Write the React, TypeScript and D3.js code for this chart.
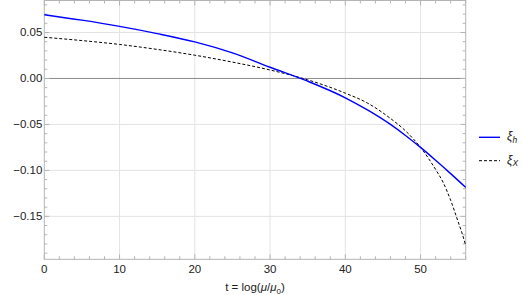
import React, { useEffect, useRef } from "react";
import * as d3 from "d3";

// values
const tXih = [0, 5, 10, 15, 20, 25, 30, 35, 40, 43, 46, 48, 50, 52, 54, 56];
const xiH = [0.0694, 0.0634, 0.0566, 0.0488, 0.0398, 0.0278, 0.0122, -0.003, -0.021, -0.0345, -0.05, -0.062, -0.075, -0.089, -0.1035, -0.1185];
const tXiX = [0, 5, 10, 15, 20, 25, 30, 35, 40, 43, 46, 48, 50, 52, 53, 54, 55, 55.5, 56];
const xiX = [0.0448, 0.0412, 0.037, 0.0316, 0.0253, 0.0178, 0.0092, -0.0015, -0.016, -0.027, -0.0435, -0.057, -0.075, -0.099, -0.113, -0.1325, -0.156, -0.168, -0.1815];
const xTicks = [0, 10, 20, 30, 40, 50];
const yTicks = [0.05, 0, -0.05, -0.1, -0.15];

const W = 523;
const H = 295;
const FONT = "'Liberation Sans', Arial, sans-serif";

export default function App() {
  const ref = useRef<SVGSVGElement>(null);

  useEffect(() => {
    const svg = d3.select(ref.current);
    svg.selectAll("*").remove();

    const x = d3.scaleLinear().domain([0, 56]).range([44.3, 465.7]);
    const y = d3.scaleLinear().domain([-0.1967, 0.0848]).range([259.3, 0.5]);
    const [x0, x1] = x.range();
    const [y0, y1] = y.range();

    // grid
    const grid = svg.append("g").attr("stroke", "#e3e3e3").attr("stroke-width", 1);
    grid.selectAll("line.v").data(xTicks.filter((d) => d > 0)).join("line")
      .attr("x1", (d) => x(d)).attr("x2", (d) => x(d)).attr("y1", y1).attr("y2", y0);
    grid.selectAll("line.h").data(yTicks.filter((d) => d !== 0)).join("line")
      .attr("x1", x0).attr("x2", x1).attr("y1", (d) => y(d)).attr("y2", (d) => y(d));

    // zero line
    svg.append("line").attr("x1", x0).attr("x2", x1).attr("y1", y(0)).attr("y2", y(0))
      .attr("stroke", "#8a8a8a").attr("stroke-width", 1);

    // frame
    svg.append("rect").attr("x", x0).attr("y", y1).attr("width", x1 - x0).attr("height", y0 - y1)
      .attr("fill", "none").attr("stroke", "#b4b4b4").attr("stroke-width", 1);

    // ticks on all four sides
    const xMinor = d3.range(0, 57, 2);
    const yMinor = d3.range(-19, 9).map((k) => k / 100);
    const tk = svg.append("g").attr("stroke", "#b4b4b4").attr("stroke-width", 1);
    const isMajX = (d: number) => d % 10 === 0;
    const isMajY = (d: number) => Math.abs(Math.round(d * 100)) % 5 === 0;
    tk.selectAll("line.b").data(xMinor).join("line")
      .attr("x1", (d) => x(d)).attr("x2", (d) => x(d))
      .attr("y1", y0).attr("y2", (d) => y0 - (isMajX(d) ? 5 : 3));
    tk.selectAll("line.t").data(xMinor).join("line")
      .attr("x1", (d) => x(d)).attr("x2", (d) => x(d))
      .attr("y1", y1).attr("y2", (d) => y1 + (isMajX(d) ? 5 : 3));
    tk.selectAll("line.l").data(yMinor).join("line")
      .attr("y1", (d) => y(d)).attr("y2", (d) => y(d))
      .attr("x1", x0).attr("x2", (d) => x0 + (isMajY(d) ? 5 : 3));
    tk.selectAll("line.r").data(yMinor).join("line")
      .attr("y1", (d) => y(d)).attr("y2", (d) => y(d))
      .attr("x1", x1).attr("x2", (d) => x1 - (isMajY(d) ? 5 : 3));

    // tick labels
    svg.append("g").selectAll("text").data(xTicks).join("text")
      .attr("x", (d) => x(d)).attr("y", y0 + 13.5)
      .attr("text-anchor", "middle").attr("font-family", FONT).attr("font-size", 11.5)
      .attr("fill", "#222").text((d) => d);
    svg.append("g").selectAll("text").data(yTicks).join("text")
      .attr("x", x0 - 2).attr("y", (d) => y(d) + 4)
      .attr("text-anchor", "end").attr("font-family", FONT).attr("font-size", 11.5)
      .attr("fill", "#222").text((d) => d3.format(".2f")(d).replace("-", "\u2212"));

    // axis label
    const lab = svg.append("text").attr("x", (x0 + x1) / 2).attr("y", 291)
      .attr("text-anchor", "middle").attr("font-family", FONT).attr("font-size", 11.5).attr("fill", "#222");
    lab.append("tspan").text("t = log(");
    lab.append("tspan").attr("font-style", "italic").text("\u03bc");
    lab.append("tspan").text("/");
    lab.append("tspan").attr("font-style", "italic").text("\u03bc");
    lab.append("tspan").attr("font-size", 8).attr("dy", 3).text("0");
    lab.append("tspan").attr("dy", -3).text(")");

    // curves
    const line = d3.line<[number, number]>()
      .x((d) => x(d[0])).y((d) => y(d[1])).curve(d3.curveMonotoneX);
    svg.append("path").datum(tXiX.map((t, i) => [t, xiX[i]] as [number, number]))
      .attr("fill", "none").attr("stroke", "#000").attr("stroke-width", 1)
      .attr("stroke-dasharray", "3,2").attr("d", line);
    svg.append("path").datum(tXih.map((t, i) => [t, xiH[i]] as [number, number]))
      .attr("fill", "none").attr("stroke", "#0000ff").attr("stroke-width", 1.4).attr("d", line);

    // legend
    const legend = [
      { sub: "h", color: "#0000ff", dash: null, w: 1.4 },
      { sub: "X", color: "#000", dash: "3,2", w: 1 },
    ];
    const lg = svg.append("g");
    legend.forEach((d, i) => {
      const ly = 137.3 + i * 23.4;
      lg.append("line").attr("x1", 479).attr("x2", 500).attr("y1", ly).attr("y2", ly)
        .attr("stroke", d.color).attr("stroke-width", d.w).attr("stroke-dasharray", d.dash);
      const t = lg.append("text").attr("x", 507).attr("y", ly + 3)
        .attr("font-family", FONT).attr("font-size", 12).attr("font-style", "italic").attr("fill", "#222");
      t.append("tspan").text("\u03be");
      t.append("tspan").attr("font-size", 8.5).attr("dy", 2.5).text(d.sub);
    });
  }, []);

  return (
    <svg ref={ref} width={W} height={H} style={{ position: "absolute", left: 0, top: 0, background: "#fff" }} />
  );
}
